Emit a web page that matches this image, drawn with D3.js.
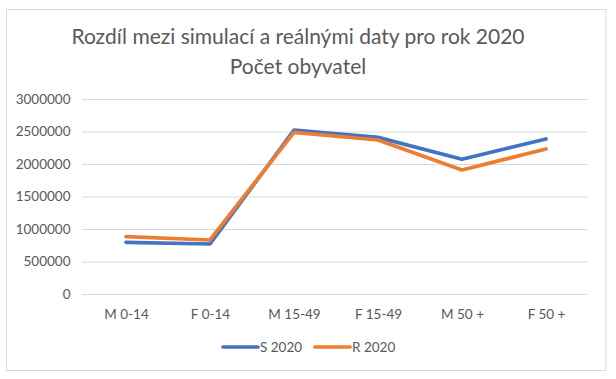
<!DOCTYPE html>
<html><head><meta charset="utf-8">
<script src="https://cdn.jsdelivr.net/npm/d3@7"></script>
<style>html,body{margin:0;padding:0;background:#fff;}svg{display:block;}</style>
</head><body>
<svg id="chart" width="616" height="379"></svg>
<script>
const titleLines = ["Rozdíl mezi simulací a reálnými daty pro rok 2020", "Počet obyvatel"];
const categories = ["M 0-14", "F 0-14", "M 15-49", "F 15-49", "M 50 +", "F 50 +"];
const seriesNames = ["S 2020", "R 2020"];
const s2020 = [795000, 769000, 2523000, 2410000, 2072000, 2385000];
const r2020 = [882000, 831000, 2487000, 2369000, 1908000, 2231000];
const yTicks = [0, 500000, 1000000, 1500000, 2000000, 2500000, 3000000];
const colors = ["#4472C4", "#ED7D31"];

(function () {
const svg = d3.select("#chart");
const font = "Lato, 'Open Sans', sans-serif";
const textColor = "#595959";
const grid = "#d9d9d9";

svg.append("rect").attr("x", 6.5).attr("y", 9.5).attr("width", 599.5).attr("height", 361)
  .attr("fill", "#fff").attr("stroke", grid).attr("stroke-width", 1);

const pLeft = 82, pRight = 587, pTop = 99, pBottom = 294;
const x = d3.scalePoint().domain(categories).range([84, 588]).padding(0.5);
const y = d3.scaleLinear().domain([0, 3000000]).range([pBottom, pTop]);

// title
const titleY = [44, 74];
titleLines.forEach((t, i) => {
  svg.append("text").attr("x", 298).attr("y", titleY[i]).attr("text-anchor", "middle")
    .attr("font-family", font).attr("font-size", 21).attr("fill", textColor).text(t);
});

// y axis with gridlines
const gy = svg.append("g").attr("transform", `translate(${pLeft},0)`)
  .call(d3.axisLeft(y).tickValues(yTicks).tickFormat(d3.format("d"))
    .tickSizeInner(-(pRight - pLeft)).tickSizeOuter(0).tickPadding(11.5));
gy.select(".domain").remove();
gy.selectAll(".tick line").attr("stroke", grid).attr("stroke-width", 1);
gy.selectAll(".tick text").attr("font-family", font).attr("font-size", 13.5).attr("fill", textColor);

// x axis
const gx = svg.append("g").attr("transform", `translate(0,${pBottom})`)
  .call(d3.axisBottom(x).tickSize(0).tickPadding(15));
gx.select(".domain").remove();
gx.selectAll(".tick text").attr("font-family", font).attr("font-size", 13.5).attr("fill", textColor);

// lines
const line = d3.line().x((d, i) => x(categories[i])).y(d => y(d));
[s2020, r2020].forEach((vals, i) => {
  svg.append("path").datum(vals).attr("d", line).attr("fill", "none")
    .attr("stroke", colors[i]).attr("stroke-width", 3.7)
    .attr("stroke-linejoin", "round").attr("stroke-linecap", "round");
});

// legend
const legendX = [223, 315];
seriesNames.forEach((n, i) => {
  const g = svg.append("g").attr("transform", `translate(${legendX[i]},347)`);
  g.append("line").attr("x1", 0).attr("x2", 35).attr("y1", 0).attr("y2", 0)
    .attr("stroke", colors[i]).attr("stroke-width", 3.7).attr("stroke-linecap", "round");
  g.append("text").attr("x", 37).attr("y", 4.7).attr("font-family", font).attr("font-size", 13.5)
    .attr("fill", textColor).text(n);
});
})();
</script>
</body></html>
